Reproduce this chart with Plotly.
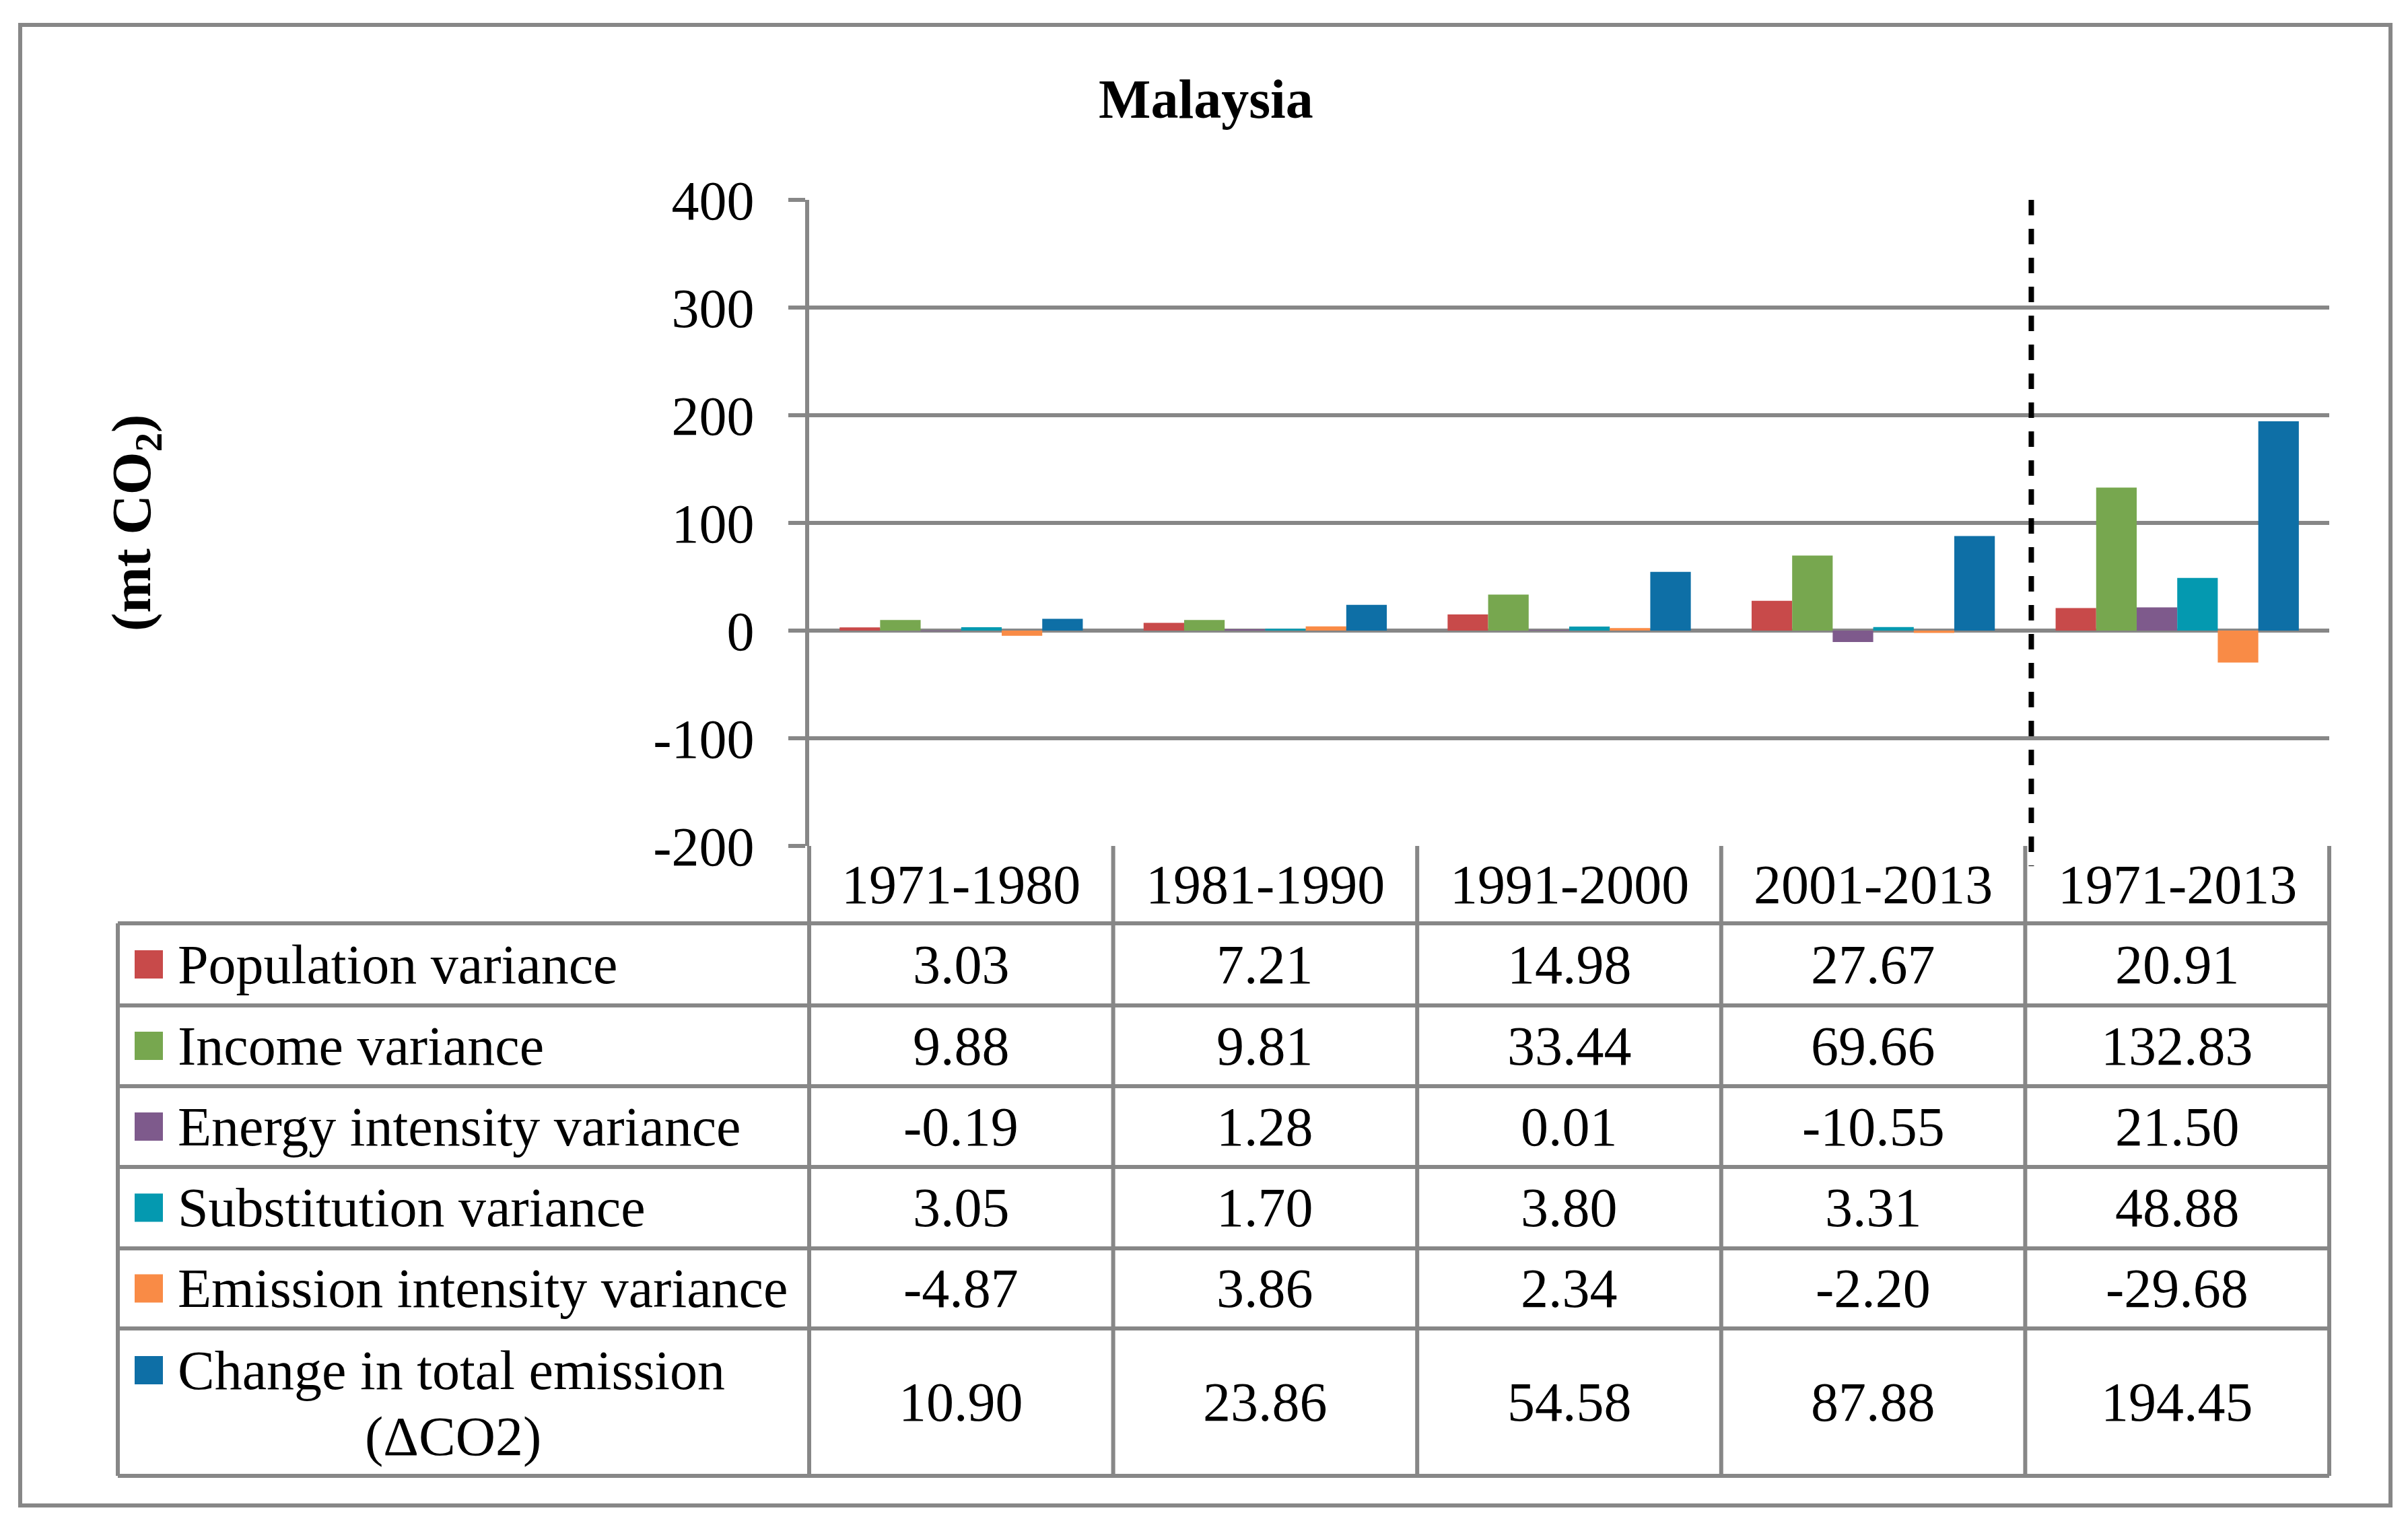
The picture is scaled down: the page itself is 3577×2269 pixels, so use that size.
import plotly.graph_objects as go

periods = ["1971-1980", "1981-1990", "1991-2000", "2001-2013", "1971-2013"]
population = [3.03, 7.21, 14.98, 27.67, 20.91]
income = [9.88, 9.81, 33.44, 69.66, 132.83]
energy_intensity = [-0.19, 1.28, 0.01, -10.55, 21.50]
substitution = [3.05, 1.70, 3.80, 3.31, 48.88]
emission_intensity = [-4.87, 3.86, 2.34, -2.20, -29.68]
total_change = [10.90, 23.86, 54.58, 87.88, 194.45]
y_ticks = [-200, -100, 0, 100, 200, 300, 400]

series_names = ["Population variance", "Income variance", "Energy intensity variance",
                "Substitution variance", "Emission intensity variance", "Change in total emission"]
series_values = [population, income, energy_intensity, substitution, emission_intensity, total_change]
colors = ["#C84A4A", "#77A74F", "#7E5A8C", "#0499B0", "#F98B46", "#0E6FA6"]

# Page geometry (pixels, page coordinates); the page body adds an 8px margin
W, H = 3577, 2269
OFF = 8
L, R, T, B = 1202, 3460, 297, 1257
GRAY = "#878787"
FONT = "Liberation Serif"
FS = 82
LW = 6


def fx(px):
    return (px - L) / (R - L)


def fy(py):
    return (B - py) / (B - T)


def text_at(x, y, text, xref="paper", xanchor="center", **kw):
    return dict(x=x, xref=xref, y=y, yref="paper", text=text, showarrow=False,
                xanchor=xanchor, yanchor="middle",
                font=dict(family=FONT, size=FS, color="black"), **kw)


fig = go.Figure()
for name, vals, col in zip(series_names, series_values, colors):
    fig.add_trace(go.Bar(x=periods, y=vals, name=name, marker=dict(color=col, line=dict(width=0)),
                         showlegend=False))

shapes = []
annotations = []

# outer chart border
shapes.append(dict(type="rect", xref="paper", yref="paper", x0=fx(30), x1=fx(3551), y0=fy(37), y1=fy(2237),
                   line=dict(color=GRAY, width=LW)))

# data table lines
table_left = 175
row_edges = [1372, 1494, 1614, 1734, 1855, 1974, 2193]
for k in range(6):
    shapes.append(dict(type="line", xref="paper", yref="paper", x0=k / 5, x1=k / 5, y0=fy(B), y1=fy(row_edges[-1]),
                       line=dict(color=GRAY, width=LW)))
shapes.append(dict(type="line", xref="paper", yref="paper", x0=fx(table_left), x1=fx(table_left),
                   y0=fy(row_edges[0]), y1=fy(row_edges[-1]), line=dict(color=GRAY, width=LW)))
for e in row_edges:
    shapes.append(dict(type="line", xref="paper", yref="paper", x0=fx(table_left), x1=1, y0=fy(e), y1=fy(e),
                       line=dict(color=GRAY, width=LW)))

# dashed separator before the whole-period group
shapes.append(dict(type="line", xref="x", yref="paper", x0=3.52, x1=3.52, y0=1, y1=fy(1287),
                   line=dict(color="black", width=8, dash="23px,20px")))

# header row
for p in periods:
    annotations.append(text_at(p, fy((B + row_edges[0]) / 2), p, xref="x"))

# table rows
for i, (name, vals, col) in enumerate(zip(series_names, series_values, colors)):
    top, bot = ([B] + row_edges)[i + 1], row_edges[i + 1]
    mid = (top + bot) / 2
    first_line = mid if i < 5 else 2036
    shapes.append(dict(type="rect", xref="paper", yref="paper", x0=fx(200), x1=fx(242),
                       y0=fy(first_line - 21), y1=fy(first_line + 21), fillcolor=col, line=dict(width=0)))
    annotations.append(text_at(fx(262), fy(first_line), name, xanchor="left"))
    if i == 5:
        annotations.append(text_at(fx(673), fy(2134), "(ΔCO2)"))
    for p, v in zip(periods, vals):
        annotations.append(text_at(p, fy(mid), f"{v:.2f}", xref="x"))

# title and y-axis title
annotations.append(text_at(fx(1791), fy(147), "<b>Malaysia</b>"))
annotations.append(text_at(fx(201), fy(777), "<b>(mt CO<sub>2</sub>)</b>", textangle=-90))

fig.update_layout(
    width=W - OFF, height=H - OFF,
    margin=dict(l=L - OFF, r=W - R, t=T - OFF, b=H - B),
    paper_bgcolor="white", plot_bgcolor="white",
    barmode="group", bargap=0.2, bargroupgap=0,
    font=dict(family=FONT, size=FS, color="black"),
    shapes=shapes, annotations=annotations,
    xaxis=dict(type="category", range=[-0.5, 4.5], showticklabels=False, showgrid=False,
               zeroline=False, showline=False, ticks=""),
    yaxis=dict(range=[-200, 400], tickvals=y_ticks, ticktext=[str(t) for t in y_ticks],
               showgrid=True, gridcolor=GRAY, gridwidth=LW, zeroline=False,
               showline=True, linecolor=GRAY, linewidth=LW,
               ticks="outside", ticklen=25, tickwidth=LW, tickcolor=GRAY, ticklabelstandoff=34,
               tickfont=dict(family=FONT, size=FS, color="black")),
)

fig.write_html("out.html")
